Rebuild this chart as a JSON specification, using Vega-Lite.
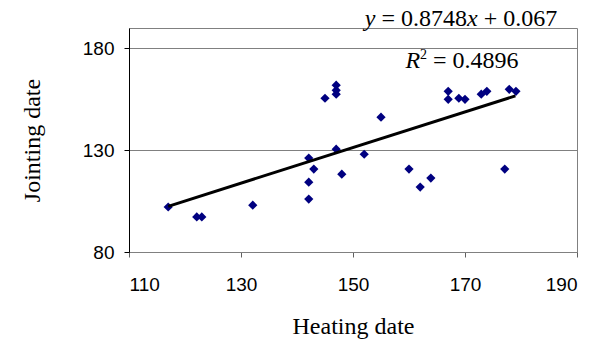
{
  "$schema": "https://vega.github.io/schema/vega-lite/v6.json",
  "width": 448,
  "height": 224,
  "autosize": {"type": "none"},
  "padding": {"left": 129, "top": 28, "right": 20, "bottom": 91},
  "background": "white",
  "config": {
    "view": {"stroke": "#808080", "strokeWidth": 1},
    "axis": {
      "labelFont": "Liberation Sans",
      "labelFontSize": 19,
      "labelColor": "black",
      "titleFont": "Liberation Serif",
      "titleFontSize": 24,
      "titleFontWeight": "normal",
      "titleColor": "black",
      "tickSize": 5,
      "tickWidth": 1
    }
  },
  "datasets": {
    "pts": [
      {"x": 117.0, "y": 102.1},
      {"x": 122.1, "y": 97.2},
      {"x": 123.0, "y": 97.2},
      {"x": 132.1, "y": 103.0},
      {"x": 145.0, "y": 155.5},
      {"x": 147.0, "y": 161.9},
      {"x": 147.0, "y": 159.4},
      {"x": 147.0, "y": 157.5},
      {"x": 142.1, "y": 126.1},
      {"x": 143.0, "y": 120.7},
      {"x": 142.1, "y": 114.3},
      {"x": 142.1, "y": 106.0},
      {"x": 147.0, "y": 130.5},
      {"x": 148.0, "y": 118.2},
      {"x": 152.0, "y": 128.0},
      {"x": 155.0, "y": 146.2},
      {"x": 160.0, "y": 120.7},
      {"x": 162.0, "y": 111.9},
      {"x": 163.9, "y": 116.3},
      {"x": 167.0, "y": 158.9},
      {"x": 167.0, "y": 155.0},
      {"x": 168.9, "y": 155.5},
      {"x": 170.0, "y": 155.0},
      {"x": 172.9, "y": 157.5},
      {"x": 173.9, "y": 158.9},
      {"x": 177.9, "y": 159.9},
      {"x": 179.1, "y": 158.9},
      {"x": 177.1, "y": 120.7}
    ],
    "fit": [{"x": 117, "y": 102.42}, {"x": 179, "y": 156.66}],
    "eqItalic": [
      {"x": 152.11, "y": 190.8, "t": "y"},
      {"x": 170.36, "y": 190.8, "t": "x"},
      {"x": 159.36, "y": 170.2, "t": "R"}
    ],
    "eqRoman": [
      {"x": 155.09, "y": 190.8, "t": "= 0.8748"},
      {"x": 173.34, "y": 190.8, "t": "+ 0.067"},
      {"x": 164.3, "y": 170.2, "t": "= 0.4896"}
    ],
    "sup": [{"x": 161.98, "y": 174.6, "t": "2"}]
  },
  "encoding": {
    "x": {
      "field": "x",
      "type": "quantitative",
      "scale": {"domain": [110, 190], "nice": false, "zero": false},
      "axis": {
        "title": "Heating date",
        "values": [110, 130, 150, 170, 190],
        "grid": false,
        "domainColor": "#808080",
        "tickColor": "#606060",
        "labelPadding": 18,
        "titlePadding": 20
      }
    },
    "y": {
      "field": "y",
      "type": "quantitative",
      "scale": {"domain": [80, 190], "nice": false, "zero": false},
      "axis": {
        "title": "Jointing date",
        "values": [80, 130, 180],
        "grid": true,
        "gridColor": "#808080",
        "gridOpacity": 1,
        "domainColor": "black",
        "tickColor": "black",
        "labelPadding": 10,
        "titlePadding": 38
      }
    }
  },
  "layer": [
    {
      "data": {"name": "pts"},
      "mark": {"type": "point", "shape": "diamond", "filled": true, "color": "#000080", "size": 85, "opacity": 1}
    },
    {
      "data": {"name": "fit"},
      "mark": {"type": "line", "color": "black", "strokeWidth": 3},
      "encoding": {}
    },
    {
      "data": {"name": "eqItalic"},
      "mark": {"type": "text", "font": "Liberation Serif", "fontSize": 24, "fontStyle": "italic", "align": "left", "baseline": "alphabetic", "color": "black"},
      "encoding": {"text": {"field": "t"}}
    },
    {
      "data": {"name": "eqRoman"},
      "mark": {"type": "text", "font": "Liberation Serif", "fontSize": 24, "align": "left", "baseline": "alphabetic", "color": "black"},
      "encoding": {"text": {"field": "t"}}
    },
    {
      "data": {"name": "sup"},
      "mark": {"type": "text", "font": "Liberation Serif", "fontSize": 14, "align": "left", "baseline": "alphabetic", "color": "black"},
      "encoding": {"text": {"field": "t"}}
    }
  ]
}
